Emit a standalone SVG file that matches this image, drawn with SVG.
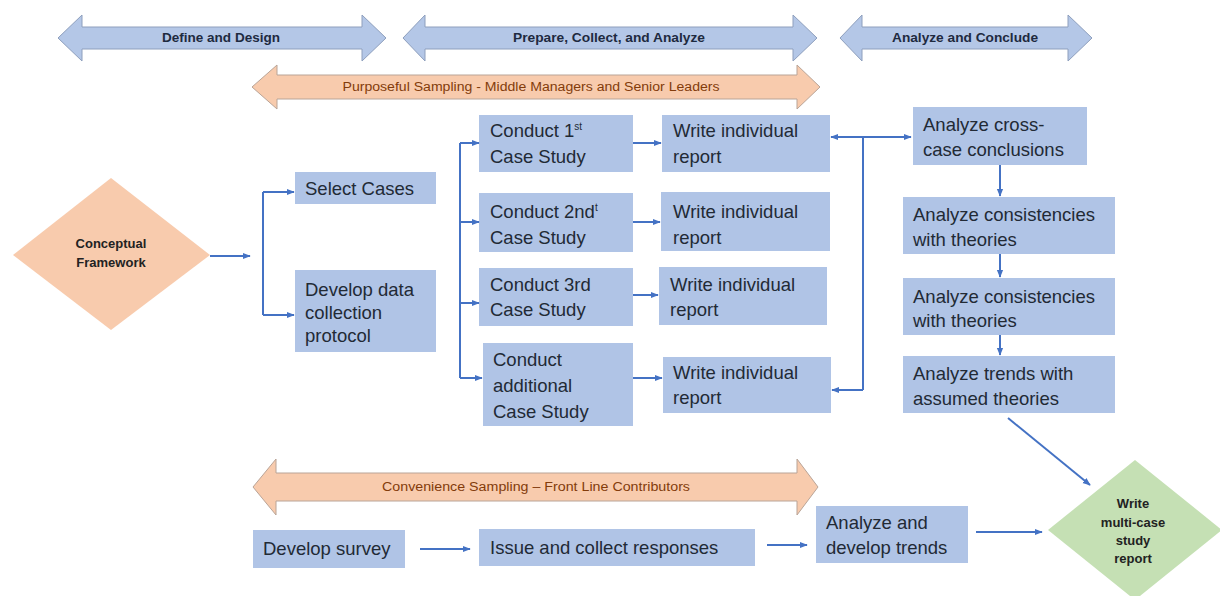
<svg xmlns="http://www.w3.org/2000/svg" width="1220" height="596" viewBox="0 0 1220 596">
<style>
.box{fill:#b0c4e6;}
.bar{fill:#b4c7e7;stroke:#8e9fbd;stroke-width:1;}
.obar{fill:#f8cbad;stroke:#b9a497;stroke-width:1;}
.t{font-family:"Liberation Sans",Arial,sans-serif;font-size:18.5px;fill:#222a35;}
.h{font-family:"Liberation Sans",Arial,sans-serif;font-size:13px;font-weight:bold;fill:#1e2a40;text-anchor:middle;}
.o{font-family:"Liberation Sans",Arial,sans-serif;font-size:12px;fill:#833c0b;text-anchor:middle;}
.d{font-family:"Liberation Sans",Arial,sans-serif;font-size:13px;font-weight:bold;fill:#222;text-anchor:middle;}
.c{fill:none;stroke:#4472c4;stroke-width:2;}
.a{marker-end:url(#ah);}
</style>
<defs>
<marker id="ah" viewBox="0 0 10 10" refX="9" refY="5" markerWidth="8" markerHeight="8" markerUnits="userSpaceOnUse" orient="auto-start-reverse">
<path d="M0,1 L10,5 L0,9 z" fill="#4472c4"/>
</marker>
</defs>

<g id="phase-define">
<polygon class="bar" points="58,38 82,15 82,27 362,27 362,15 386,38 362,61 362,49 82,49 82,61"/>
<text class="h" x="221" y="42" textLength="118" lengthAdjust="spacingAndGlyphs">Define and Design</text>
</g>
<g id="phase-prepare">
<polygon class="bar" points="403,38 425,15 425,27 793,27 793,15 817,38 793,61 793,49 425,49 425,61"/>
<text class="h" x="609" y="42" textLength="192" lengthAdjust="spacingAndGlyphs">Prepare, Collect, and Analyze</text>
</g>
<g id="phase-conclude">
<polygon class="bar" points="840,38 862,15 862,27 1068,27 1068,15 1092,38 1068,61 1068,49 862,49 862,61"/>
<text class="h" x="965" y="42" textLength="146" lengthAdjust="spacingAndGlyphs">Analyze and Conclude</text>
</g>
<g id="purposeful">
<polygon class="obar" points="252,87 277,65 277,75 797,75 797,65 820,87 797,109 797,99 277,99 277,109"/>
<text class="o" x="531" y="91" textLength="377" lengthAdjust="spacingAndGlyphs">Purposeful Sampling - Middle Managers and Senior Leaders</text>
</g>
<g id="convenience">
<polygon class="obar" points="253,487 276,459 276,473 797,473 797,459 818,487 797,515 797,501 276,501 276,515"/>
<text class="o" x="536" y="491" textLength="308" lengthAdjust="spacingAndGlyphs">Convenience Sampling – Front Line Contributors</text>
</g>

<g id="conceptual">
<polygon points="13,255 111,178 210,255 111,330" fill="#f8cbad"/>
<text class="d" x="111" y="248">Conceptual</text>
<text class="d" x="111" y="267">Framework</text>
</g>
<g id="select">
<rect class="box" x="295" y="172" width="141" height="32"/>
<text class="t" x="305" y="195">Select Cases</text>
</g>
<g id="protocol">
<rect class="box" x="295" y="270" width="141" height="82"/>
<text class="t" x="305" y="296">Develop data</text>
<text class="t" x="305" y="319">collection</text>
<text class="t" x="305" y="342">protocol</text>
</g>

<g id="case1">
<rect class="box" x="479" y="115" width="154" height="57"/>
<text class="t" x="490" y="137">Conduct 1<tspan font-size="10" dy="-7">st</tspan></text>
<text class="t" x="490" y="163">Case Study</text>
</g>
<g id="report1">
<rect class="box" x="662" y="115" width="168" height="57"/>
<text class="t" x="673" y="137">Write individual</text>
<text class="t" x="673" y="163">report</text>
</g>
<g id="case2">
<rect class="box" x="479" y="193" width="154" height="59"/>
<text class="t" x="490" y="218">Conduct 2nd<tspan font-size="10" dy="-7">t</tspan></text>
<text class="t" x="490" y="244">Case Study</text>
</g>
<g id="report2">
<rect class="box" x="661" y="192" width="169" height="59"/>
<text class="t" x="673" y="218">Write individual</text>
<text class="t" x="673" y="244">report</text>
</g>
<g id="case3">
<rect class="box" x="479" y="268" width="154" height="58"/>
<text class="t" x="490" y="291">Conduct 3rd</text>
<text class="t" x="490" y="316">Case Study</text>
</g>
<g id="report3">
<rect class="box" x="659" y="267" width="168" height="58"/>
<text class="t" x="670" y="291">Write individual</text>
<text class="t" x="670" y="316">report</text>
</g>
<g id="case4">
<rect class="box" x="483" y="343" width="150" height="83"/>
<text class="t" x="493" y="366">Conduct</text>
<text class="t" x="493" y="392">additional</text>
<text class="t" x="493" y="418">Case Study</text>
</g>
<g id="report4">
<rect class="box" x="663" y="357" width="168" height="56"/>
<text class="t" x="673" y="379">Write individual</text>
<text class="t" x="673" y="404">report</text>
</g>

<g id="cross">
<rect class="box" x="913" y="107" width="174" height="58"/>
<text class="t" x="923" y="131">Analyze cross-</text>
<text class="t" x="923" y="156">case conclusions</text>
</g>
<g id="consist1">
<rect class="box" x="903" y="197" width="212" height="57"/>
<text class="t" x="913" y="221">Analyze consistencies</text>
<text class="t" x="913" y="246">with theories</text>
</g>
<g id="consist2">
<rect class="box" x="903" y="278" width="212" height="57"/>
<text class="t" x="913" y="303">Analyze consistencies</text>
<text class="t" x="913" y="327">with theories</text>
</g>
<g id="trends">
<rect class="box" x="903" y="356" width="212" height="57"/>
<text class="t" x="913" y="380">Analyze trends with</text>
<text class="t" x="913" y="405">assumed theories</text>
</g>

<g id="survey">
<rect class="box" x="253" y="530" width="152" height="38"/>
<text class="t" x="263" y="555">Develop survey</text>
</g>
<g id="issue">
<rect class="box" x="479" y="529" width="276" height="37"/>
<text class="t" x="490" y="554">Issue and collect responses</text>
</g>
<g id="devtrends">
<rect class="box" x="816" y="506" width="152" height="57"/>
<text class="t" x="826" y="529">Analyze and</text>
<text class="t" x="826" y="554">develop trends</text>
</g>
<g id="final">
<polygon points="1048,530 1135,460 1222,530 1135,600" fill="#c5e0b4"/>
<text class="d" x="1133" y="508">Write</text>
<text class="d" x="1133" y="527">multi-case</text>
<text class="d" x="1133" y="545">study</text>
<text class="d" x="1133" y="563">report</text>
</g>

<g id="connectors">
<path class="c a" d="M210,256 H250"/>
<path class="c" d="M263,192 V315"/>
<path class="c a" d="M263,192 H294"/>
<path class="c a" d="M263,315 H294"/>
<path class="c" d="M460,143 V378"/>
<path class="c a" d="M460,143 H479"/>
<path class="c a" d="M460,222 H479"/>
<path class="c a" d="M460,303 H479"/>
<path class="c a" d="M460,378 H482"/>
<path class="c a" d="M633,143 H661"/>
<path class="c a" d="M633,222 H660"/>
<path class="c a" d="M633,295 H658"/>
<path class="c a" d="M633,378 H662"/>
<path class="c a" d="M863,137 H831"/>
<path class="c a" d="M863,137 H911"/>
<path class="c" d="M863,137 V390"/>
<path class="c a" d="M863,390 H832"/>
<path class="c a" d="M1000,165 V196"/>
<path class="c a" d="M1000,254 V277"/>
<path class="c a" d="M1000,335 V355"/>
<path class="c a" d="M1008,418 L1090,485"/>
<path class="c a" d="M420,549 H470"/>
<path class="c a" d="M767,545 H807"/>
<path class="c a" d="M976,532 H1042"/>
</g>
</svg>
